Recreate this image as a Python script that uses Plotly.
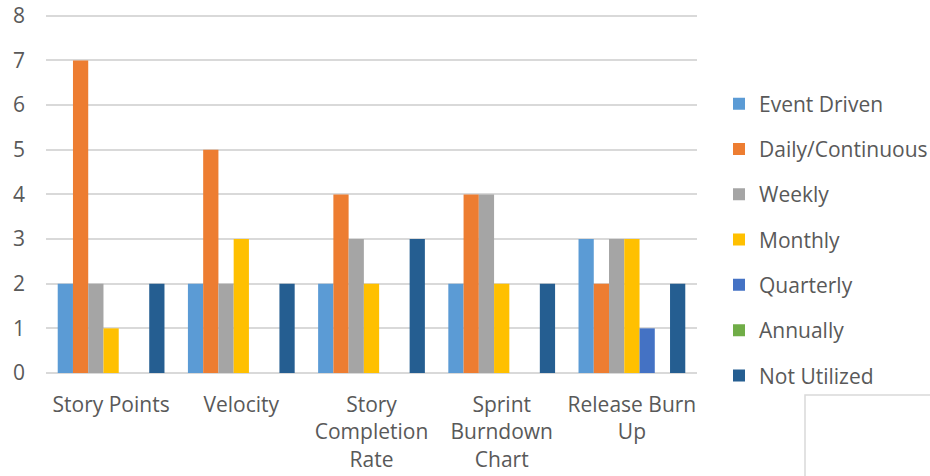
import plotly.graph_objects as go

categories = [
    "Story Points",
    "Velocity",
    "Story<br>Completion<br>Rate",
    "Sprint<br>Burndown<br>Chart",
    "Release Burn<br>Up",
]

series_names = [
    "Event Driven",
    "Daily/Continuous",
    "Weekly",
    "Monthly",
    "Quarterly",
    "Annually",
    "Not Utilized",
]

event_driven = [2, 2, 2, 2, 3]
daily_continuous = [7, 5, 4, 4, 2]
weekly = [2, 2, 3, 4, 3]
monthly = [1, 3, 2, 2, 3]
quarterly = [0, 0, 0, 0, 1]
annually = [0, 0, 0, 0, 0]
not_utilized = [2, 2, 3, 2, 2]

series_values = [event_driven, daily_continuous, weekly, monthly,
                 quarterly, annually, not_utilized]

colors = ["#5B9BD5", "#ED7D31", "#A5A5A5", "#FFC000",
          "#4472C4", "#70AD47", "#255E91"]

font_family = "Open Sans, Noto Sans, sans-serif"
text_color = "#595959"
fs = 21

fig = go.Figure()
for name, vals, col in zip(series_names, series_values, colors):
    fig.add_trace(go.Bar(
        x=categories, y=vals, name=name, legendgroup=name,
        marker=dict(color=col, line=dict(width=0)),
    ))

# plot area in pixels: x 46..697, y (top of range) ..373
W, H = 930, 476
L, R, B = 46, 233, 103
y_top = 8.04
unit = 357 / 8.0
T = round(H - B - unit * y_top)
pw, ph = W - L - R, H - T - B

def px_x(p):
    return (p - L) / pw

def px_y(p):
    return (H - B - p) / ph

fig.update_layout(
    width=W, height=H,
    margin=dict(l=L, r=R, t=T, b=B, pad=0, autoexpand=False),
    paper_bgcolor="white", plot_bgcolor="white",
    barmode="group", bargap=0.18, bargroupgap=0,
    font=dict(family=font_family, size=fs, color=text_color),
    showlegend=True,
    legend=dict(
        x=px_x(719), xanchor="left",
        y=px_y(240), yanchor="middle",
        traceorder="grouped", tracegroupgap=15,
        bgcolor="rgba(0,0,0,0)",
        font=dict(size=fs, color=text_color),
        itemwidth=30,
    ),
    xaxis=dict(
        showgrid=False, showline=False, zeroline=False, automargin=False,
        tickfont=dict(size=fs, color=text_color),
        ticklabelstandoff=17,
    ),
    yaxis=dict(
        range=[0, y_top], tickvals=list(range(0, 9)), showgrid=True,
        automargin=False,
        gridcolor="#D9D9D9", gridwidth=2,
        zeroline=True, zerolinecolor="#D9D9D9", zerolinewidth=2,
        showline=False,
        tickfont=dict(size=fs, color=text_color),
        ticklabelstandoff=20,
    ),
    shapes=[dict(
        type="rect", xref="paper", yref="paper",
        x0=px_x(805), x1=px_x(940), y0=px_y(490), y1=px_y(395),
        line=dict(color="#D9D9D9", width=1.5), fillcolor="white",
        layer="below",
    )],
)

fig.write_html("out.html")
